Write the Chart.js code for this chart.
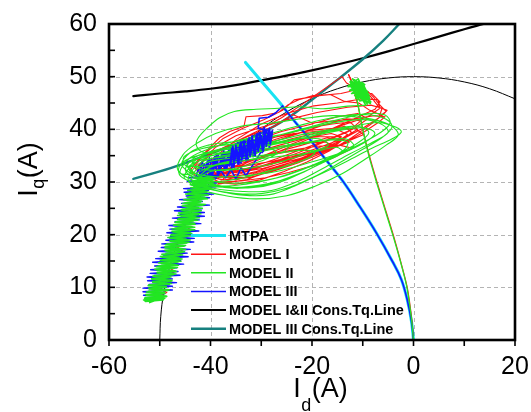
<!DOCTYPE html>
<html>
<head>
<meta charset="utf-8">
<script src="https://cdn.jsdelivr.net/npm/chart.js@4.4.1/dist/chart.umd.min.js"></script>
<style>
  html, body { margin: 0; padding: 0; background: #fff; }
  #wrap { width: 531px; height: 412px; }
</style>
</head>
<body>
<div id="wrap"><canvas id="c" width="531" height="412"></canvas></div>
<script>
// ---- axis ranges and tick labels ----
const xRange = [-60, 20];
const yRange = [0, 60];
const xTickStep = 20;
const yTickStep = 10;

// ---- reference curves (Id, Iq) in A ----
const currentLimitCircle = [[-50,0],[-49.8,4.5],[-49.2,9],[-48,14],[-46,19.6],[-43.3,25],[-40,30],[-35.7,35],[-30,40],[-25,43.3],[-20,45.8],[-15,47.7],[-10,49],[-5,49.75],[0,50],[5,49.75],[10,49],[15,47.7],[20,45.8]];
const torqueLineI_II = [[-55.2,46.3],[-50,46.8],[-45,47.2],[-40,47.7],[-35,48.4],[-30,49.3],[-25,50.2],[-20,51.2],[-15,52.3],[-10,53.5],[-5,54.8],[0,56.2],[5,57.6],[10,59.0],[13.8,60]];
const torqueLineIII = [[-55.2,30.6],[-50,32.0],[-45,33.6],[-40,35.4],[-35,37.2],[-30,39.3],[-25,42.0],[-20,45.6],[-15,49.4],[-10,53.3],[-6,56.8],[-2.8,60]];
const mtpaCurve = [[-33.1,52.7],[-29.5,48.6],[-26.3,45],[-23.5,41.6],[-21,38.8],[-17.5,34.5],[-14.1,30.4],[-10.5,25.2],[-7.3,20.3],[-4.2,15],[-2.4,11.5],[-1.2,7.5],[-0.4,3.5],[0,0]];

// ---- MODEL I trajectory ----
const model1Start = [[0,0],[-0.3,3.6],[-1.2,9.8],[-2.5,14.8],[-4.0,20],[-5.6,25],[-7.2,30],[-8.7,35],[-10,40],[-11,44.8],[-12.4,49.4],[-12.8,50.4]];
const model1Loops = [[-12.8,50.4],[-12.0,48.9],[-10.6,47.9],[-9.0,47.2],[-7.8,46.0],[-6.8,44.8],[-5.4,43.4],[-6.4,42.7],[-8.6,43.6],[-10.8,45.0],[-13.6,45.3],[-16.4,46.6],[-19.8,46.4],[-22.6,45.6],[-24.8,44.6],[-26.6,43.2],[-29.8,42.6],[-33.0,42.4],[-33.4,40.6],[-36.2,39.6],[-38.2,38.4],[-40.5,36.2],[-42.6,34.0],[-44.0,32.2],[-42.8,31.0],[-39.5,30.0],[-35.0,29.6],[-30.2,30.4],[-25.5,32.0],[-21.0,33.8],[-16.4,36.0],[-12.2,38.4],[-8.6,40.8],[-6.0,42.8],[-5.2,43.6],[-6.8,44.2],[-8.6,46.4],[-10.8,48.0],[-12.6,47.2],[-14.3,46.8],[-18.6,46.4],[-23.5,45.6],[-25.8,43.6],[-29.5,41.8],[-33.6,40.2],[-37.6,38.2],[-41.4,35.2],[-43.2,32.8],[-41.6,31.2],[-37.4,30.4],[-32.6,30.8],[-27.8,32.0],[-22.8,33.6],[-18.2,35.4],[-13.6,37.4],[-9.6,39.6],[-6.8,41.4],[-5.6,42.4],[-7.8,42.6],[-11.4,42.0],[-15.6,41.6],[-20.0,41.2],[-23.8,42.8],[-27.4,40.6],[-31.2,39.2],[-35.2,37.6],[-39.4,35.6],[-42.4,33.2],[-40.4,31.6],[-36.2,31.0],[-31.6,31.6],[-26.8,33.0],[-21.8,34.4],[-17.2,36.0],[-12.8,37.8],[-9.8,39.0],[-11.6,40.2],[-15.2,40.0],[-19.4,39.6],[-23.6,39.2],[-27.8,38.4],[-31.8,37.2],[-35.8,35.6],[-39.6,33.6],[-41.8,32.4],[-38.6,31.6],[-34.2,31.8],[-29.6,32.6],[-25.0,33.8],[-20.4,35.0],[-16.0,36.4],[-12.6,37.6],[-14.8,38.6],[-18.6,38.6],[-22.8,38.2],[-27.0,37.4],[-31.0,36.2],[-35.0,34.8],[-38.8,33.2],[-40.6,32.4],[-36.6,32.6],[-32.2,33.2],[-27.6,34.0],[-23.0,35.0],[-18.8,36.0],[-15.4,36.8],[-17.4,37.6],[-21.6,37.4],[-26.0,36.8],[-30.2,35.8],[-34.4,34.4],[-38.0,33.0],[-35.4,33.6],[-31.0,34.4],[-26.6,35.4],[-22.0,36.2],[-19.6,35.6],[-23.4,34.6],[-27.8,33.4],[-32.4,32.4],[-36.8,31.6],[-40.2,30.8],[-38.2,30.0],[-34.0,30.2],[-29.2,30.8],[-24.6,31.8],[-20.2,33.0],[-15.8,34.6],[-12.0,36.4],[-14.6,37.0],[-19.0,36.8],[-24.2,36.0],[-29.4,35.0],[-34.2,33.4],[-39.0,31.6],
  [-40,33],[-36,36],[-31,38],[-26,39.6],[-20,41],[-15,42.4],[-11,43],[-9,42],[-12,40],[-17,38],[-22,36.2],[-27,34.4],[-32,32.8],[-37,31.6],
  [-41.5,32],[-37,35],[-32,37],[-27,38.6],[-21,40.2],[-16,41],[-12.5,41.4],[-11,40],[-14,38.2],[-19,36.4],[-24,34.8],[-29,33.2],[-34,31.6],[-38.5,30.8],
  [-40.6,33.6],[-36,37.2],[-30,40],[-26,42.2],[-22.4,44.4],[-18,47.4],[-14.1,50],[-13.2,48.8],[-11,47.6],[-8.2,46.8],[-6.6,45.2],[-7.6,43.8],[-10.4,42.6],[-15,40.6],[-20,38.4],[-25,36.4],[-30,34.4],[-35,32.4],[-39,31.4],
  [-35,34.6],[-30,36.6],[-24,38.2],[-18,39.6],[-13.6,40.6],[-12.2,39.4],[-15,37.2],[-20,35.2],[-25,33.4],[-30,31.8],[-35,30.4],[-39,31.4],
  [-43,32.5],[-39,36.6],[-35,38.8],[-30,40.4],[-25,41.8],[-19,43.2],[-13,44.2],[-8.4,44.6],[-6.2,44],[-6.8,42.2],[-10,40.2],[-15,37.6],[-21,35],[-27,32.6],[-33,30.4],[-38.6,29.6],
  [-37,31],[-33,33.6],[-28,35.4],[-22,37],[-17,38.4],[-14,38],[-17,36.2],[-22,34.2],[-27,32.4],[-32,30.8],
  [-40.4,31],[-36.4,34.4],[-31.4,36.8],[-26.2,38.4],[-20.6,39.8],[-15.6,40.2],[-13,39],[-16,37],[-21,35.4],[-26,33.6],[-31,32],[-36,30.8],
  [-40,34],[-35,38],[-30,41],[-25,43],[-20,44.4],[-15,45],[-10,45.8],[-7,45.6],[-6.6,44],[-9,42.4],[-14,40.8],[-19,39],[-24,37.2],[-29,35.2],[-34,33.2],
  [-38,32],[-34,35],[-29,37.2],[-23.2,39],[-17.8,40.8],[-13.2,42],[-10.4,41.6],[-12.8,39.6],[-17.6,37.6],[-22.6,35.6],[-27.6,33.8],[-32.8,32.2],
  [-36,33.4],[-31.4,35.6],[-26.4,37],[-21,38.4],[-16.2,39.2],[-14.2,38.6],[-17.4,36.6],[-22.4,35],[-27.4,33.6],[-32.2,32.6],[-36.8,31.8],[-40.2,30.8],[-41.2,30.6]];
const model1Band = [[-41.2,30.6],[-42.8,29.6],[-41.0,28.6],[-43.6,27.6],[-41.8,26.8],[-44.4,25.8],[-42.6,25.0],[-45.0,24.0],[-43.2,23.0],[-45.6,22.0],[-44.0,21.0],[-46.4,20.0],[-44.8,19.0],[-47.0,18.0],[-45.6,17.0],[-47.8,16.0],[-46.4,15.0],[-48.6,14.0],[-47.0,13.0],[-49.2,12.0],[-47.8,11.0],[-50.0,10.0],[-48.6,9.0],[-50.8,8.0],[-49.4,7.8]];

// ---- MODEL II trajectory ----
const model2Start = [[0,0],[-0.4,4],[-1.3,10],[-2.6,15],[-4.1,20],[-5.7,25],[-7.3,30],[-8.8,35],[-10,40],[-11,45],[-11.8,48.5],[-12.3,49.2]];
const model2Cluster = [[-12.3,49.2],[-10.4,47.0],[-12.8,48.4],[-9.9,46.4],[-12.0,49.6],[-9.4,47.3],[-12.6,47.4],[-10.1,48.9],[-8.7,46.1],[-11.6,46.4],[-9.6,48.5],[-12.9,48.1],[-10.9,49.6],[-8.9,45.5],[-10.8,47.8],[-8.4,45.2],[-11.7,48.3],[-9.2,45.0],[-10.3,48.2],[-12.2,46.8],[-9.0,47.1],[-11.3,48.9],[-8.5,44.9],[-10.6,46.0],[-9.8,48.6],[-11.8,47.2],[-9.5,46.0],[-11.0,49.0],[-8.8,46.6],[-11.4,45.9],[-9.9,47.7],[-12.4,48.8],[-10.2,46.3],[-11.6,49.4],[-9.3,46.8],[-12.1,47.8],[-10.6,45.4],[-8.6,45.8],[-10.9,47.4],[-9.1,44.8],[-11.9,48.6],[-10.0,45.6],[-12.5,49.0],[-9.7,47.0],[-11.2,46.5],[-8.9,46.0],[-10.4,48.8],[-11.5,48.0],[-9.6,45.3],[-12.2,48.3],[-10.7,49.2],[-9.0,45.6],[-11.1,47.3],[-9.4,44.6]];
const model2Loops = [[-9.4,44.6],[-13,44.4],[-17.8,43.9],[-22.5,44.3],[-26.5,44.0],[-31,43.8],[-35.3,43.4],[-38.2,42.2],[-40.6,40.3],[-42.4,38.4],[-42.8,37.0],[-41.6,35.7],[-38.5,35.5],[-33,36.2],[-26,37.6],[-19,39.2],[-12.5,40.4],[-7,41.3],[-3.4,40.4],[-2.4,39.5],[-4.2,38.2],[-8.2,36.4],[-13.2,33.9],[-18.5,31.4],[-23.5,29.2],[-28.3,27.6],[-33.5,27.5],[-38.8,28.4],[-43,29.7],[-45.9,31.1],[-46.2,32.8],[-44.3,34.4],[-40,35.6],[-34.5,36.8],[-28,38.5],[-21.5,40.2],[-15,41.8],[-9,43.0],[-5.6,42.7],[-4.6,41.2],[-6.5,39.4],[-10.5,37.2],[-15.5,34.8],[-21,32.2],[-26.5,29.9],[-32,28.9],[-37.5,29.2],[-42.2,30.4],[-44.9,32.1],[-43.8,34.0],[-39.5,35.1],[-33.6,35.9],[-27,37.2],[-20.5,38.6],[-14.5,39.8],[-9.8,40.3],[-7.6,39.2],[-9.8,37.4],[-14.6,35.2],[-20.4,32.9],[-26.4,30.9],[-32.4,29.9],[-38.2,29.9],[-42.8,31.0],[-44.3,32.8],[-42,34.1],[-37,34.8],[-31,35.6],[-24.5,36.8],[-18.2,37.8],[-13.4,38.2],[-11.8,36.8],[-15,35.3],[-20.8,33.6],[-27,32.0],[-33.2,31.2],[-39,31.0],[-43.4,31.8],[-44.6,33.4],[-41.3,34.7],[-35.5,35.8],[-29.5,37.0],[-23.5,38.1],[-18.6,38.2],[-16.8,37.0],[-20.5,35.6],[-26.4,33.8],[-32.5,32.6],[-38.6,32.2],[-43,32.8],[-43.5,34.4],[-40,35.8],[-34.5,37.0],[-28.8,37.6],[-24.6,37.2],[-25.5,35.8],[-30.5,34.6],[-36.2,33.6],[-41.5,33.0],[-45,33.2],[-45.2,34.8],[-41.8,36.3],[-36.4,37.1],[-31.6,37.0],[-30.2,35.8],[-34.4,34.4],[-39.6,33.1],[-43.2,31.6],
  [-46,31.8],[-44,34.6],[-40,36.4],[-35,37.8],[-29,39],[-23,40.6],[-17,42],[-11,42.8],[-6,42.2],[-4.2,40.6],[-6,38.6],[-10,36.2],[-15,33.4],[-20,30.8],[-25,28.8],[-30,27.8],[-35,27.8],[-40,28.6],[-44,30],
  [-45.2,31],[-43,33.6],[-39,35.2],[-34,36.4],[-28,37.6],[-22,39],[-16,40],[-11,40.6],[-8.8,39.4],[-11,37.4],[-16,34.8],[-21,32.2],[-26.5,30.2],[-32,29.2],[-37,29],[-41.6,29.6],
  [-46.4,32.2],[-45.4,35.2],[-42.6,37.4],[-39,39.2],[-34,40.6],[-28,41.2],[-22,42],[-16,42.6],[-10,42.2],[-5,41],[-3,39],[-5.4,37],[-9.4,34.4],[-14,31.6],[-19.4,29.2],[-25,27.4],[-31,26.8],[-37,27.4],[-42,28.6],
  [-44.4,30.4],[-42.4,33.4],[-38.4,34.8],[-33,35.6],[-27,36.6],[-21,37.6],[-16,38],[-13,37.6],[-13.6,36.2],[-17,34.4],[-22,32.4],[-27.6,30.6],[-33,29.6],[-38.6,29.4],
  [-45.6,33],[-44,35.6],[-40.4,37],[-36,37.6],[-31,38.2],[-25,39.2],[-19,40.6],[-13.5,41.6],[-9,41.8],[-6,40.8],[-5,39.4],[-8,37.6],[-12.4,35.4],[-17.4,32.8],[-22.6,30.2],[-28,28.4],[-33.6,28.2],[-39.4,28.8],[-43.6,30.2],
  [-43.6,31.4],[-41,33.6],[-37,34.4],[-32,34.8],[-27,35.4],[-22.4,36],[-19.4,35.8],[-20.6,34.6],[-24.6,33.2],[-29.6,31.8],[-34.6,30.6],[-39.6,30.2],
  [-44,32.6],[-42,34.8],[-38,36],[-33,36.4],[-28.4,36.4],[-27,35.4],[-30,34],[-35,32.6],[-40,32],
  [-42.6,30.6],[-40,32.8],[-35.6,33.8],[-30.4,34.4],[-25,35],[-20,35.6],[-15.2,36.6],[-14,35.6],[-18,33.6],[-23,31.4],[-28.6,29.6],[-34.4,28.8],[-39.6,29.4],
  [-41.8,30.6],[-39.5,31.0]];
const model2Band = [[-39.5,31.0],[-43.2,30.7],[-39.5,30.4],[-42.9,30.1],[-39.4,29.8],[-44.0,29.5],[-40.6,29.2],[-43.9,28.9],[-40.1,28.6],[-43.7,28.3],[-40.7,28.0],[-44.9,27.7],[-41.2,27.4],[-44.6,27.1],[-40.6,26.8],[-44.6,26.5],[-42.0,26.2],[-45.5,25.9],[-41.5,25.6],[-44.8,25.3],[-41.6,25.0],[-45.8,24.7],[-42.4,24.4],[-46.3,24.1],[-42.4,23.8],[-45.8,23.5],[-42.2,23.2],[-46.5,22.9],[-43.4,22.6],[-47.0,22.3],[-43.0,22.0],[-46.5,21.7],[-43.1,21.4],[-47.6,21.1],[-43.9,20.8],[-47.4,20.5],[-43.7,20.2],[-47.9,19.9],[-44.8,19.6],[-48.0,19.3],[-44.0,19.0],[-47.9,18.7],[-44.7,18.4],[-48.9,18.1],[-45.3,17.8],[-48.9,17.5],[-44.9,17.2],[-48.7,16.9],[-45.6,16.6],[-49.6,16.3],[-46.2,16.0],[-49.5,15.7],[-45.6,15.4],[-49.9,15.1],[-46.4,14.8],[-49.7,14.5],[-46.3,14.2],[-50.7,13.9],[-47.2,13.6],[-50.6,13.3],[-46.7,13.0],[-50.5,12.7],[-47.3,12.4],[-51.4,12.1],[-48.1,11.8],[-51.5,11.5],[-47.6,11.2],[-51.4,10.9],[-48.1,10.6],[-52.3,10.3],[-48.7,10.0],[-52.1,9.7],[-48.4,9.4],[-52.6,9.1],[-49.1,8.8],[-52.6,8.5],[-48.7,8.2],[-53.0,7.9],[-49.3,7.6],[-52.8,7.3],[-49.0,7.9],[-53.2,7.6],[-48.6,8.3],[-52.0,7.1],[-50.2,8.8],[-51.6,7.5]];
const model2BandRepeat = [[-42.8,30.85],[-39.2,30.55],[-43.6,30.25],[-40.0,29.95],[-43.6,29.65],[-39.5,29.35],[-43.3,29.05],[-40.2,28.75],[-44.5,28.45],[-41.0,28.15],[-44.4,27.85],[-40.4,27.55],[-44.2,27.25],[-40.9,26.95],[-45.3,26.65],[-41.7,26.35],[-45.0,26.05],[-41.0,25.75],[-45.6,25.45],[-42.4,25.15],[-45.6,24.85],[-41.8,24.55],[-45.6,24.25],[-41.9,23.95],[-46.5,23.65],[-42.9,23.35],[-46.3,23.05],[-42.5,22.75],[-46.8,22.45],[-43.2,22.15],[-47.3,21.85],[-43.8,21.55],[-47.0,21.25],[-43.1,20.95],[-47.6,20.65],[-44.0,20.35],[-47.7,20.05],[-43.9,19.75],[-48.4,19.45],[-44.8,19.15],[-48.0,18.85],[-44.2,18.55],[-48.6,18.25],[-44.9,17.95],[-49.0,17.65],[-45.6,17.35],[-49.0,17.05],[-45.1,16.75],[-48.8,16.45],[-45.5,16.15],[-49.9,15.85],[-46.1,15.55],[-49.6,15.25],[-45.8,14.95],[-50.2,14.65],[-46.8,14.35],[-50.3,14.05],[-46.5,13.75],[-51.0,13.45],[-47.0,13.15],[-50.5,12.85],[-46.8,12.55],[-51.1,12.25],[-47.8,11.95],[-51.6,11.65],[-47.6,11.35],[-51.4,11.05],[-47.7,10.75],[-52.2,10.45],[-48.7,10.15],[-52.2,9.85],[-48.1,9.55],[-52.2,9.25],[-49.0,8.95],[-52.8,8.65],[-48.8,8.35],[-52.9,8.05],[-49.4,7.75],[-53.0,7.45]];

// ---- MODEL III trajectory ----
const model3Mtpa = [[0,0],[-0.4,3.5],[-1.2,7.5],[-2.4,11.5],[-4.2,15],[-7.3,20.3],[-10.5,25.2],[-14.1,30.4],[-17.5,34.5],[-21,38.8],[-23.5,41.6],[-25.8,44.4]];
const model3Cluster = [[-25.8,44.4],[-27.2,43.1],[-28.6,42.3],[-30.4,42.1],[-30.6,40.2],[-29.2,39.8],[-28.8,37.2],
  [-29.4,40.4],[-30.2,36.2],[-30.8,39.0],[-31.6,34.8],[-32.2,38.4],[-33.0,34.0],[-33.6,37.8],[-34.4,33.4],[-35.0,37.0],[-35.8,32.6],[-36.4,36.2],[-37.2,32.2],[-37.8,35.4],[-38.6,31.4],[-39.2,34.8],[-40.0,31.0],[-40.6,34.0],[-41.4,30.8],[-42.0,33.2],[-42.8,31.4],
  [-42.4,30.4],[-41.6,33.9],[-41.0,30.6],[-40.2,34.6],[-39.6,31.2],[-38.8,35.3],[-38.2,31.6],[-37.4,36.0],[-36.8,32.4],[-36.0,36.6],[-35.4,32.8],[-34.6,37.4],[-34.0,33.6],[-33.2,38.0],[-32.6,34.2],[-31.8,38.8],[-31.2,35.0],[-30.4,39.4],[-29.8,35.6],[-29.0,40.0],[-28.4,36.4],[-27.8,39.6],
  [-28.6,39.0],[-29.2,36.8],[-30.0,38.6],[-30.6,36.0],[-31.4,38.0],[-32.0,35.4],[-32.8,37.4],[-33.4,34.8],[-34.2,36.8],[-34.8,34.2],[-35.6,36.2],[-36.2,33.6],[-37.0,35.6],[-37.6,33.0],[-38.4,35.0],[-39.0,32.6],[-39.8,34.2],[-40.4,32.0],[-41.2,33.4],[-41.8,31.6],
  [-42.0,32.4],[-41.2,31.2],[-40.6,33.4],[-39.8,31.8],[-39.0,34.2],[-38.2,32.4],[-37.4,34.8],[-36.6,33.0],[-35.8,35.6],[-35.0,33.6],[-34.2,36.2],[-33.4,34.4],[-32.6,36.8],[-31.8,35.2],[-31.0,37.6],[-30.2,35.8],[-29.4,38.4],[-28.6,37.0],[-28.0,38.8],
  [-33.0,31.2],[-34.0,32.6],[-35.0,30.6],[-36.0,32.4],[-37.0,30.8],[-38.0,32.2],[-39.0,30.6],[-40.0,31.8],[-41.0,30.2],[-42.0,31.4],[-38.4,31.2]];
const model3Core = [[-36.2,33.0],[-35.8,36.4],[-35.4,33.6],[-35.0,37.0],[-34.6,33.4],[-34.2,37.2],[-33.8,34.2],[-33.4,37.8],[-33.0,34.6],[-32.6,38.0],[-32.2,34.8],[-31.8,38.6],[-31.4,35.4],[-31.0,38.8],[-30.6,35.8],[-30.2,39.4],[-29.8,36.2],[-29.4,39.6],[-29.0,36.8],[-28.6,40.0],[-28.2,37.2],[-27.8,39.8],
  [-28.0,38.2],[-28.4,40.2],[-28.8,37.6],[-29.2,39.0],[-29.6,35.8],[-30.0,38.8],[-30.4,36.6],[-30.8,39.2],[-31.2,35.0],[-31.6,37.6],[-32.0,35.6],[-32.4,38.4],[-32.8,34.4],[-33.2,36.8],[-33.6,34.8],[-34.0,37.6],[-34.4,33.8],[-34.8,36.2],[-35.2,34.2],[-35.6,36.8],[-36.0,33.4]];
const model3Band = [[-38.4,31.2],[-44.1,30.85],[-39.7,30.5],[-44.6,30.15],[-38.8,29.8],[-43.7,29.45],[-38.9,29.1],[-45.3,28.75],[-40.4,28.4],[-45.2,28.05],[-39.4,27.7],[-44.8,27.35],[-40.2,27.0],[-46.1,26.65],[-41.6,26.3],[-45.7,25.95],[-40.2,25.6],[-46.5,25.25],[-41.7,24.9],[-47.1,24.55],[-41.2,24.2],[-46.0,23.85],[-41.2,23.5],[-47.5,23.15],[-42.2,22.8],[-47.0,22.45],[-41.9,22.1],[-48.2,21.75],[-43.5,21.4],[-48.0,21.05],[-42.3,20.7],[-48.6,20.35],[-43.3,20.0],[-47.9,19.65],[-43.2,19.3],[-48.8,18.95],[-43.3,18.6],[-49.6,18.25],[-45.1,17.9],[-49.7,17.55],[-44.0,17.2],[-50.3,16.85],[-44.6,16.5],[-49.3,16.15],[-44.4,15.8],[-50.8,15.45],[-45.9,15.1],[-51.4,14.75],[-45.3,14.4],[-51.0,14.05],[-46.7,13.7],[-51.8,13.35],[-46.4,13.0],[-51.9,12.65],[-46.0,12.3],[-52.5,11.95],[-47.5,11.6],[-52.4,11.25],[-46.7,10.9],[-52.1,10.55],[-47.5,10.2],[-53.3,9.85],[-47.5,9.5],[-53.3,9.15],[-49.0,8.8],[-53.2,8.5],[-49.2,8.3]];

// ---- colours ----
const COL = {
  mtpa: '#19e3f2',
  m1: '#ff1414',
  m2: '#22e622',
  m3: '#1414ff',
  tq12: '#000000',
  tq3: '#16807f',
  circle: '#000000'
};

const FONT = 'Arial, "Liberation Sans", sans-serif';

const toXY = arr => arr.map(([x, y]) => ({ x, y }));
function line(label, arr, color, width, tension, order) {
  return {
    label, data: toXY(arr), showLine: true, fill: false,
    borderColor: color, backgroundColor: color, borderWidth: width,
    pointRadius: 0, pointHoverRadius: 0, tension, order,
    borderJoinStyle: 'round', borderCapStyle: 'round'
  };
}

// lower "order" is painted on top
const datasets = [
  line('Current limit', currentLimitCircle, COL.circle, 1, 0.4, 9),
  line('MODEL I&II Cons.Tq.Line', torqueLineI_II, COL.tq12, 2.2, 0.4, 8),
  line('MODEL III Cons.Tq.Line', torqueLineIII, COL.tq3, 2.4, 0.4, 7),
  line('MTPA', mtpaCurve, COL.mtpa, 3, 0.4, 6),
  line('MODEL I', model1Start, COL.m1, 1.2, 0.3, 5),
  line('MODEL I', model1Loops, COL.m1, 1.1, 0, 5),
  line('MODEL I', model1Band, COL.m1, 1.1, 0, 5),
  line('MODEL III', model3Mtpa, COL.m3, 1.6, 0.4, 3),
  line('MODEL III', model3Band, COL.m3, 1.4, 0, 3),
  line('MODEL III', model3Cluster, COL.m3, 1.6, 0, 2),
  line('MODEL II', model2Start, COL.m2, 1.3, 0.3, 1),
  line('MODEL II', model2Cluster, COL.m2, 1.6, 0, 1),
  line('MODEL II', model2Loops, COL.m2, 1.1, 0.35, 1),
  line('MODEL II', model2Band, COL.m2, 1.5, 0, 1),
  line('MODEL II', model2BandRepeat, COL.m2, 1.5, 0, 1),
  line('MODEL III', model3Core, COL.m3, 1.6, 0, 0)
];

const legendItems = [
  { text: 'MTPA', color: COL.mtpa, width: 3 },
  { text: 'MODEL I', color: COL.m1, width: 1.5 },
  { text: 'MODEL II', color: COL.m2, width: 1.5 },
  { text: 'MODEL III', color: COL.m3, width: 1.5 },
  { text: 'MODEL I&II Cons.Tq.Line', color: COL.tq12, width: 2 },
  { text: 'MODEL III Cons.Tq.Line', color: COL.tq3, width: 2.4 }
];

// text with a subscript: [main, sub, rest]
function drawSubTitle(ctx, parts, size, subSize, subShift) {
  ctx.font = size + 'px ' + FONT;
  const w0 = ctx.measureText(parts[0]).width;
  const w2 = ctx.measureText(parts[2]).width;
  ctx.font = subSize + 'px ' + FONT;
  const w1 = ctx.measureText(parts[1]).width;
  let x = -(w0 + w1 + w2) / 2;
  ctx.textAlign = 'left';
  ctx.textBaseline = 'alphabetic';
  ctx.font = size + 'px ' + FONT;
  ctx.fillText(parts[0], x, 0); x += w0 + 0.5;
  ctx.font = subSize + 'px ' + FONT;
  ctx.fillText(parts[1], x, subShift); x += w1 + 0.5;
  ctx.font = size + 'px ' + FONT;
  ctx.fillText(parts[2], x, 0);
}

const decor = {
  id: 'decor',
  beforeDatasetsDraw(chart) {
    const { ctx, chartArea: a, scales: { x, y } } = chart;
    ctx.save();
    ctx.strokeStyle = '#b4b4b4';
    ctx.lineWidth = 1;
    ctx.setLineDash([4, 3]);
    for (let v = xRange[0] + xTickStep; v < xRange[1]; v += xTickStep) {
      const px = Math.round(x.getPixelForValue(v)) + 0.5;
      ctx.beginPath(); ctx.moveTo(px, a.top); ctx.lineTo(px, a.bottom); ctx.stroke();
    }
    for (let v = yRange[0] + yTickStep; v < yRange[1]; v += yTickStep) {
      const py = Math.round(y.getPixelForValue(v)) + 0.5;
      ctx.beginPath(); ctx.moveTo(a.left, py); ctx.lineTo(a.right, py); ctx.stroke();
    }
    ctx.restore();
  },
  afterDatasetsDraw(chart) {
    const { ctx, chartArea: a, scales: { x, y } } = chart;
    ctx.save();

    // legend inside the plot
    const lx0 = a.left + 82, lx1 = lx0 + 35, tx = lx1 + 3;
    let ly = Math.round(y.getPixelForValue(20)) + 0.5;
    ctx.font = 'bold 14.5px ' + FONT;
    ctx.textAlign = 'left';
    ctx.textBaseline = 'middle';
    for (const it of legendItems) {
      ctx.strokeStyle = it.color;
      ctx.lineWidth = it.width;
      ctx.beginPath(); ctx.moveTo(lx0, ly); ctx.lineTo(lx1, ly); ctx.stroke();
      ctx.fillStyle = '#000';
      ctx.fillText(it.text, tx, ly + 1);
      ly += 18.65;
    }

    // frame
    ctx.strokeStyle = '#000';
    ctx.lineWidth = 2.6;
    ctx.strokeRect(a.left, a.top, a.right - a.left, a.bottom - a.top);

    // tick marks: left axis inward, bottom axis outward
    ctx.lineWidth = 1.6;
    for (let v = yRange[0] + 5; v < yRange[1]; v += 5) {
      const py = y.getPixelForValue(v);
      ctx.beginPath(); ctx.moveTo(a.left, py); ctx.lineTo(a.left + 6, py); ctx.stroke();
    }
    for (let v = xRange[0]; v <= xRange[1]; v += 10) {
      const px = x.getPixelForValue(v);
      ctx.beginPath(); ctx.moveTo(px, a.bottom); ctx.lineTo(px, a.bottom + 6); ctx.stroke();
    }

    // axis titles
    ctx.fillStyle = '#000';
    ctx.save();
    ctx.translate(320, 397);
    drawSubTitle(ctx, ['I', 'd', '(A)'], 27, 18, 14);
    ctx.restore();
    ctx.save();
    ctx.translate(37, 170);
    ctx.rotate(-Math.PI / 2);
    drawSubTitle(ctx, ['I', 'q', '(A)'], 27, 18, 7);
    ctx.restore();

    ctx.restore();
  }
};

new Chart(document.getElementById('c'), {
  type: 'scatter',
  data: { datasets },
  options: {
    responsive: false,
    animation: false,
    events: [],
    layout: { padding: { left: 0, right: 16, top: 24, bottom: 0 } },
    plugins: { legend: { display: false }, tooltip: { enabled: false } },
    scales: {
      x: {
        type: 'linear', min: xRange[0], max: xRange[1],
        ticks: { stepSize: xTickStep, color: '#000', font: { family: FONT, size: 25 }, padding: 12, autoSkip: false, maxRotation: 0 },
        grid: { display: false, drawTicks: false },
        border: { display: false },
        afterFit(s) { s.height = 72; s.paddingLeft = 0; s.paddingRight = 0; }
      },
      y: {
        type: 'linear', min: yRange[0], max: yRange[1],
        ticks: { stepSize: yTickStep, color: '#000', font: { family: FONT, size: 25 }, padding: 12, autoSkip: false },
        grid: { display: false, drawTicks: false },
        border: { display: false },
        afterFit(s) { s.width = 109; s.paddingTop = 0; s.paddingBottom = 0; }
      }
    }
  },
  plugins: [decor]
});
</script>
</body>
</html>
